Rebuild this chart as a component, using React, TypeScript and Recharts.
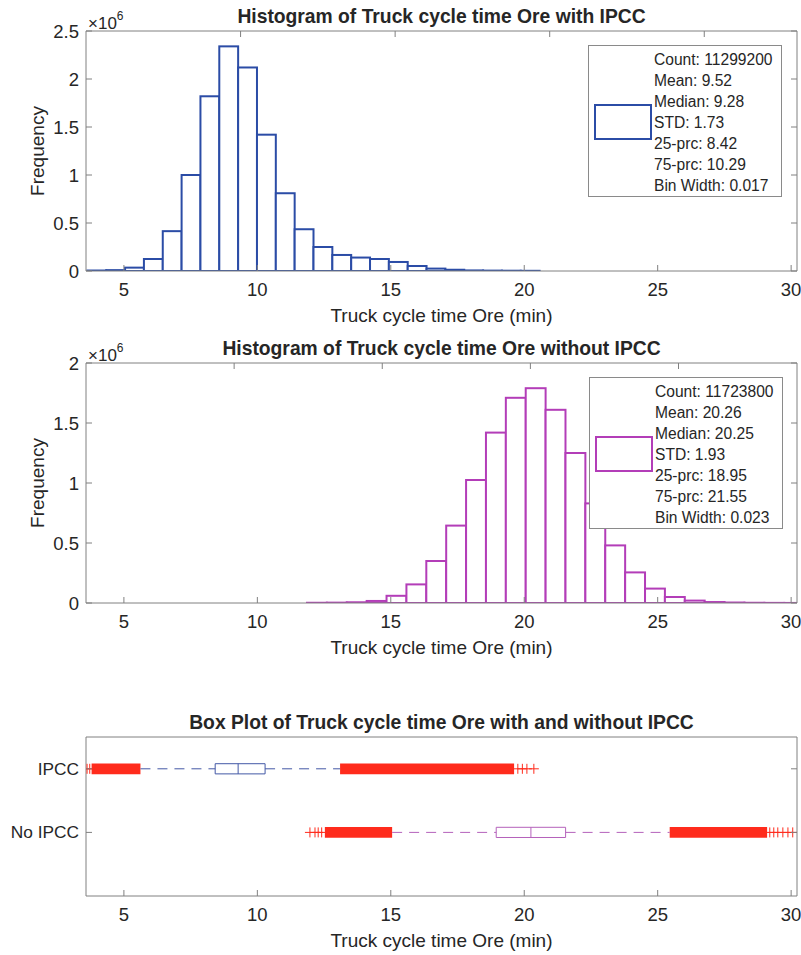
import { ComposedChart, Bar, Scatter, XAxis, YAxis, Legend, Label, ReferenceArea, ReferenceLine } from "recharts"

const FONT = '"Liberation Sans", Arial, Helvetica, sans-serif'
const INK = "#262626"
const AXIS_GRAY = "#808080"
const IPCC_BLUE = "#2b4ca6"
const NO_IPCC_MAGENTA = "#b33db8"
const IPCC_WHISKER = "#4358a6"
const NO_IPCC_WHISKER = "#b562bb"
const OUTLIER_RED = "#ff2b1c"

const CHART_W = 801
const PLOT_LEFT = 86
const PLOT_RIGHT = 4
const PLOT_W = CHART_W - PLOT_LEFT - PLOT_RIGHT
// axes need a non-zero thickness to be drawn at all
const AX = 1

// shared x range of all three panels (min)
const xDomain = [3.58, 30.22]
const xTicks = [5, 10, 15, 20, 25, 30]
const xLabel = "Truck cycle time Ore (min)"

// histogram with IPCC
const ipccBinCenters = [
  3.983, 4.689, 5.395, 6.101, 6.807, 7.513, 8.219, 8.925, 9.631, 10.337, 11.043, 11.749,
  12.455, 13.161, 13.867, 14.573, 15.279, 15.985, 16.691, 17.397, 18.103, 18.809, 19.515, 20.221,
]
const ipccCounts = [
  5000, 9000, 35000, 125000, 415000, 1000000, 1820000, 2340000, 2120000, 1420000, 810000, 435000,
  250000, 167000, 140000, 125000, 94000, 52000, 25000, 13000, 6000, 4000, 3000, 2000,
]
const ipccYTicks = [0, 500000, 1000000, 1500000, 2000000, 2500000]
const ipccStats = [
  "Count: 11299200", "Mean: 9.52", "Median: 9.28", "STD: 1.73",
  "25-prc: 8.42", "75-prc: 10.29", "Bin Width: 0.017",
]

// histogram without IPCC
const noIpccBinCenters = [
  12.233, 12.978, 13.723, 14.468, 15.213, 15.958, 16.703, 17.448, 18.193, 18.938, 19.683, 20.428,
  21.173, 21.918, 22.663, 23.408, 24.153, 24.898, 25.643, 26.388, 27.133, 27.878, 28.623, 29.368, 30.113,
]
const noIpccCounts = [
  2000, 3000, 6000, 17000, 60000, 155000, 350000, 645000, 1025000, 1420000, 1710000, 1790000,
  1610000, 1250000, 830000, 480000, 255000, 120000, 50000, 20000, 8000, 4000, 2000, 1000, 500,
]
const noIpccYTicks = [0, 500000, 1000000, 1500000, 2000000]
const noIpccStats = [
  "Count: 11723800", "Mean: 20.26", "Median: 20.25", "STD: 1.93",
  "25-prc: 18.95", "75-prc: 21.55", "Bin Width: 0.023",
]

// box plot, one row per group
const boxGroups = ["IPCC", "No IPCC"]
const boxRows = [1, 2]
const boxQ1 = [8.42, 18.95]
const boxMedian = [9.28, 20.25]
const boxQ3 = [10.29, 21.55]
const whiskerLow = [5.62, 15.05]
const whiskerHigh = [13.1, 25.45]
// stretches where the outlier crosses merge into a solid band
const ipccOutlierBands = [[3.79, 5.62], [13.1, 19.62]]
const noIpccOutlierBands = [[12.53, 15.05], [25.45, 29.1]]
// separate outliers at the outer ends
const ipccOutlierTips = [3.62, 3.72, 19.76, 19.93, 20.1, 20.36]
const noIpccOutlierTips = [11.97, 12.16, 12.28, 12.41, 29.2, 29.35, 29.5, 29.69, 29.88, 30.06]

const BOX_HALF = 0.08

const textProps = { fill: INK, fontFamily: FONT }

const BottomTick = ({ x, y, payload }: any) => (
  <g>
    <line x1={x} y1={y} x2={x} y2={y - 6} stroke={AXIS_GRAY} />
    <text x={x} y={y + 18} textAnchor="middle" dominantBaseline="central" fontSize={18.5} {...textProps}>
      {payload.value}
    </text>
  </g>
)

const TopTick = ({ x, y }: any) => <line x1={x} y1={y} x2={x} y2={y + 6} stroke={AXIS_GRAY} />

const RightTick = ({ x, y }: any) => <line x1={x} y1={y} x2={x - 6} y2={y} stroke={AXIS_GRAY} />

const leftTick = (format: (v: number) => string, size: number) => ({ x, y, payload }: any) => (
  <g>
    <line x1={x} y1={y} x2={x + 6} y2={y} stroke={AXIS_GRAY} />
    <text x={x - 7} y={y} textAnchor="end" dominantBaseline="central" fontSize={size} {...textProps}>
      {format(payload.value)}
    </text>
  </g>
)

const millions = (v: number) => String(v / 1000000)

function titleLabel(text: string, top: number) {
  return (
    <Label
      content={() => (
        <text x={PLOT_LEFT + PLOT_W / 2} y={top - 15} textAnchor="middle" dominantBaseline="central"
          fontSize={19.3} fontWeight="bold" {...textProps}>
          {text}
        </text>
      )}
    />
  )
}

function xLabelNode(y: number) {
  return (
    <Label content={() => (
      <text x={PLOT_LEFT + PLOT_W / 2} y={y} textAnchor="middle" dominantBaseline="central"
        fontSize={19} {...textProps}>{xLabel}</text>
    )} />
  )
}

function StatsBox({ color, lines }: { color: string; lines: string[] }) {
  return (
    <div style={{
      position: "relative", width: 194, height: 152, boxSizing: "border-box",
      border: "1px solid #8a8a8a", background: "#fff", fontFamily: FONT,
    }}>
      <svg width={60} height={40} style={{ position: "absolute", left: 4, top: 57 }}>
        <rect x={2} y={2} width={56} height={34} fill="#fff" stroke={color} strokeWidth={2} />
      </svg>
      <div style={{ position: "absolute", left: 65, top: 3, fontSize: 15.6, lineHeight: "21px", color: INK, whiteSpace: "nowrap" }}>
        {lines.map((l) => <div key={l}>{l}</div>)}
      </div>
    </div>
  )
}

type HistProps = {
  title: string
  centers: number[]
  counts: number[]
  yTicks: number[]
  color: string
  stats: string[]
  top: number
  legendPos: { left: number; top: number }
}

function Histogram({ title, centers, counts, yTicks, color, stats, top, legendPos }: HistProps) {
  const data = centers.map((x, i) => ({ x, count: counts[i] }))
  const height = 330
  const plotH = 240
  const yMax = yTicks[yTicks.length - 1]
  const binWidth = centers[1] - centers[0]
  // full bin width in pixels; recharts rounds bar sizes down, which leaves slivers between bins
  const binPx = (binWidth / (xDomain[1] - xDomain[0])) * PLOT_W
  const BinRect = ({ x, y, width, height: h }: any) => (
    <rect x={x + width / 2 - binPx / 2} y={y} width={binPx} height={Math.max(h, 0)}
      fill="#fff" stroke={color} strokeWidth={2} />
  )
  return (
    <ComposedChart width={CHART_W} height={height} data={data} barCategoryGap={0} barGap={0}
      margin={{ top: top - AX, right: PLOT_RIGHT - AX, bottom: height - top - plotH - AX, left: PLOT_LEFT - AX }}>
      <XAxis dataKey="x" type="number" domain={xDomain} ticks={xTicks} interval={0} allowDataOverflow
        height={AX} tickSize={0} tickMargin={0} tickLine={false} tick={BottomTick} axisLine={{ stroke: AXIS_GRAY }}>
        {xLabelNode(top + plotH + 44)}
      </XAxis>
      <XAxis xAxisId="top" orientation="top" type="number" domain={xDomain} ticks={xTicks} interval={0}
        allowDataOverflow height={AX} tickSize={0} tickMargin={0} tickLine={false} tick={TopTick}
        axisLine={{ stroke: AXIS_GRAY }}>
        {titleLabel(title, top)}
      </XAxis>
      <YAxis type="number" domain={[0, yMax]} ticks={yTicks} interval={0} allowDataOverflow
        width={AX} tickSize={0} tickMargin={0} tickLine={false} tick={leftTick(millions, 18.5)} axisLine={{ stroke: AXIS_GRAY }}>
        <Label content={() => (
          <g>
            <text x={PLOT_LEFT - 49} y={top + plotH / 2} textAnchor="middle" dominantBaseline="central" fontSize={19}
              transform={`rotate(-90 ${PLOT_LEFT - 49} ${top + plotH / 2})`} {...textProps}>Frequency</text>
            <text x={PLOT_LEFT + 2} y={top - 8} dominantBaseline="central" fontSize={17} {...textProps}>
              ×10<tspan dy={-7} fontSize={12}>6</tspan>
            </text>
          </g>
        )} />
      </YAxis>
      <YAxis yAxisId="right" orientation="right" type="number" domain={[0, yMax]} ticks={yTicks}
        interval={0} allowDataOverflow width={AX} tickSize={0} tickMargin={0} tickLine={false} tick={RightTick}
        axisLine={{ stroke: AXIS_GRAY }} />
      <Bar dataKey="count" fill="#fff" stroke={color} strokeWidth={2} barSize={binPx} shape={BinRect}
        isAnimationActive={false} />
      <Legend layout="horizontal" verticalAlign="middle" align="center"
        wrapperStyle={{ left: legendPos.left, top: legendPos.top, width: 194, height: 152 }}
        content={() => <StatsBox color={color} lines={stats} />} />
    </ComposedChart>
  )
}

const PlusMark = ({ cx, cy }: any) => (
  <path d={`M${cx - 5},${cy}H${cx + 5}M${cx},${cy - 5}V${cy + 5}`} stroke={OUTLIER_RED} strokeWidth={1} fill="none" />
)

function BoxPlot() {
  const height = 295
  const top = 77
  const plotH = 159
  const rowDomain = [0.5, 3]
  const bands = [ipccOutlierBands, noIpccOutlierBands]
  const whiskerColors = [IPCC_WHISKER, NO_IPCC_WHISKER]
  const tips = [
    ...ipccOutlierTips.map((x) => ({ x, y: boxRows[0] })),
    ...noIpccOutlierTips.map((x) => ({ x, y: boxRows[1] })),
  ]
  const ids = { xAxisId: "b", yAxisId: "l" }
  return (
    <ComposedChart width={CHART_W} height={height}
      margin={{ top: top - AX, right: PLOT_RIGHT - AX, bottom: height - top - plotH - AX, left: PLOT_LEFT - AX }}>
      <XAxis xAxisId="b" dataKey="x" type="number" domain={xDomain} ticks={xTicks} interval={0} allowDataOverflow
        height={AX} tickSize={0} tickMargin={0} tickLine={false} tick={BottomTick} axisLine={{ stroke: AXIS_GRAY }}>
        {xLabelNode(top + plotH + 44)}
      </XAxis>
      <XAxis xAxisId="t" orientation="top" type="number" domain={xDomain} ticks={xTicks} interval={0}
        allowDataOverflow height={AX} tickSize={0} tickMargin={0} tickLine={false} tick={TopTick}
        axisLine={{ stroke: AXIS_GRAY }}>
        {titleLabel("Box Plot of Truck cycle time Ore with and without IPCC", top)}
      </XAxis>
      <YAxis yAxisId="l" dataKey="y" type="number" domain={rowDomain} reversed ticks={boxRows} interval={0}
        allowDataOverflow width={AX} tickSize={0} tickMargin={0} tickLine={false}
        tick={leftTick((v) => boxGroups[boxRows.indexOf(v)], 17.3)} axisLine={{ stroke: AXIS_GRAY }} />
      <YAxis yAxisId="r" orientation="right" type="number" domain={rowDomain} reversed ticks={boxRows} interval={0}
        allowDataOverflow width={AX} tickSize={0} tickMargin={0} tickLine={false} tick={RightTick}
        axisLine={{ stroke: AXIS_GRAY }} />

      {boxRows.flatMap((row, i) => [
        <ReferenceLine key={`wl${i}`} {...ids} segment={[{ x: whiskerLow[i], y: row }, { x: boxQ1[i], y: row }]}
          stroke={whiskerColors[i]} strokeDasharray="10 7" />,
        <ReferenceLine key={`wh${i}`} {...ids} segment={[{ x: boxQ3[i], y: row }, { x: whiskerHigh[i], y: row }]}
          stroke={whiskerColors[i]} strokeDasharray="10 7" />,
        ...bands[i].map(([lo, hi], j) => (
          <ReferenceArea key={`ob${i}-${j}`} {...ids} x1={lo} x2={hi} y1={row - BOX_HALF - 0.004} y2={row + BOX_HALF + 0.004}
            fill={OUTLIER_RED} fillOpacity={1} stroke="none" ifOverflow="hidden" />
        )),
        <ReferenceArea key={`box${i}`} {...ids} x1={boxQ1[i]} x2={boxQ3[i]} y1={row - BOX_HALF} y2={row + BOX_HALF}
          fill="#fff" fillOpacity={1} stroke={whiskerColors[i]} strokeWidth={1} />,
        <ReferenceLine key={`md${i}`} {...ids}
          segment={[{ x: boxMedian[i], y: row - BOX_HALF }, { x: boxMedian[i], y: row + BOX_HALF }]}
          stroke={whiskerColors[i]} />,
      ])}

      <Scatter {...ids} data={tips} dataKey="y" shape={PlusMark} isAnimationActive={false} />
    </ComposedChart>
  )
}

export default function App() {
  return (
    <div style={{ position: "absolute", left: 0, top: 0, width: 801, height: 955, background: "#fff", fontFamily: FONT }}>
      <div style={{ position: "absolute", left: 0, top: 0 }}>
        <Histogram title="Histogram of Truck cycle time Ore with IPCC" centers={ipccBinCenters} counts={ipccCounts}
          yTicks={ipccYTicks} color={IPCC_BLUE} stats={ipccStats} top={31} legendPos={{ left: 588, top: 45 }} />
      </div>
      <div style={{ position: "absolute", left: 0, top: 330 }}>
        <Histogram title="Histogram of Truck cycle time Ore without IPCC" centers={noIpccBinCenters} counts={noIpccCounts}
          yTicks={noIpccYTicks} color={NO_IPCC_MAGENTA} stats={noIpccStats} top={33} legendPos={{ left: 589, top: 47 }} />
      </div>
      <div style={{ position: "absolute", left: 0, top: 660 }}>
        <BoxPlot />
      </div>
    </div>
  )
}
